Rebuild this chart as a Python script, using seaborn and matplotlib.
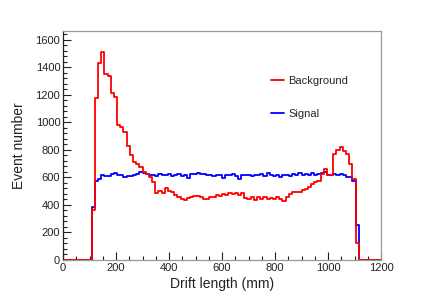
import numpy as np
import pandas as pd
import matplotlib
matplotlib.use("Agg")
import matplotlib.pyplot as plt
from matplotlib.ticker import MultipleLocator
import seaborn as sns

# ---- data (12 mm bins, 0-1200 mm) ----
bin_width = 12
n_bins = 100
background = [
    0, 0, 0, 0, 0, 0, 0, 0, 0, 365,
    1181, 1429, 1510, 1354, 1340, 1217, 1188, 981, 964, 928,
    831, 766, 711, 699, 675, 639, 627, 602, 566, 487,
    500, 489, 525, 500, 494, 470, 458, 440, 434, 450,
    458, 462, 462, 455, 446, 446, 458, 455, 470, 465,
    480, 470, 490, 480, 485, 470, 490, 450, 445, 455,
    434, 455, 446, 458, 446, 452, 446, 458, 446, 429,
    458, 482, 494, 494, 494, 506, 518, 530, 554, 566,
    578, 627, 663, 615, 615, 770, 800, 819, 795, 771,
    699, 590, 123, 0, 0, 0, 0, 0, 0, 0,
]
signal = [
    0, 0, 0, 0, 0, 0, 0, 0, 0, 383,
    578, 590, 615, 612, 612, 627, 634, 615, 618, 602,
    612, 612, 620, 622, 639, 634, 625, 615, 615, 612,
    622, 615, 615, 622, 612, 620, 627, 612, 615, 597,
    622, 622, 634, 627, 627, 615, 620, 612, 615, 620,
    597, 620, 615, 622, 612, 590, 615, 620, 615, 612,
    620, 615, 622, 612, 634, 615, 612, 620, 605, 615,
    620, 612, 627, 618, 634, 615, 627, 620, 631, 615,
    627, 631, 639, 615, 615, 622, 620, 625, 618, 602,
    602, 578, 253, 0, 0, 0, 0, 0, 0, 0,
]
series_labels = ["Background", "Signal"]
x_label = "Drift length (mm)"
y_label = "Event number"

edges = np.arange(n_bins + 1) * bin_width
centers = edges[:-1] + bin_width / 2
df = pd.DataFrame({"x": centers, "bkg": background, "sig": signal})

sns.set_style("ticks")
plt.rcParams["font.family"] = ["Liberation Sans", "DejaVu Sans"]

fig = plt.figure(figsize=(4.24, 3.06), dpi=100)
ax = fig.add_axes([63 / 424, 46 / 306, 318 / 424, 229 / 306])

sns.histplot(data=df, x="x", weights="sig", binwidth=bin_width,
             binrange=(0, n_bins * bin_width), element="step",
             fill=False, color="#0000ff", linewidth=1.3, ax=ax, label=series_labels[1])
sns.histplot(data=df, x="x", weights="bkg", binwidth=bin_width,
             binrange=(0, n_bins * bin_width), element="step",
             fill=False, color="#ff0000", linewidth=1.3, ax=ax, label=series_labels[0])

ax.set_xlim(0, 1200)
ax.set_ylim(0, 1665)
ax.xaxis.set_major_locator(MultipleLocator(200))
ax.xaxis.set_minor_locator(MultipleLocator(50))
ax.yaxis.set_major_locator(MultipleLocator(200))
ax.yaxis.set_minor_locator(MultipleLocator(40))
ax.tick_params(which="both", direction="in", top=False, right=False,
               labelsize=8, width=0.8, colors="#222222", labelcolor="#222222", pad=2)
ax.tick_params(which="major", length=6)
ax.tick_params(which="minor", length=3)
for name, s in ax.spines.items():
    s.set_visible(True)
    s.set_linewidth(0.9)
    s.set_color("#222222" if name == "left" else "#999999")

ax.set_xlabel(x_label, fontsize=10, labelpad=3, color="#222222")
ax.set_ylabel(y_label, fontsize=10, labelpad=7, color="#222222")

handles, labels = ax.get_legend_handles_labels()
order = [labels.index(l) for l in series_labels]
ax.legend([handles[i] for i in order], [labels[i] for i in order],
          loc="center left", bbox_to_anchor=(0.636, 0.71), frameon=False,
          borderpad=0, fontsize=8, labelspacing=2.1, handlelength=1.2,
          handletextpad=0.35)

fig.savefig("out.png", dpi=100)
